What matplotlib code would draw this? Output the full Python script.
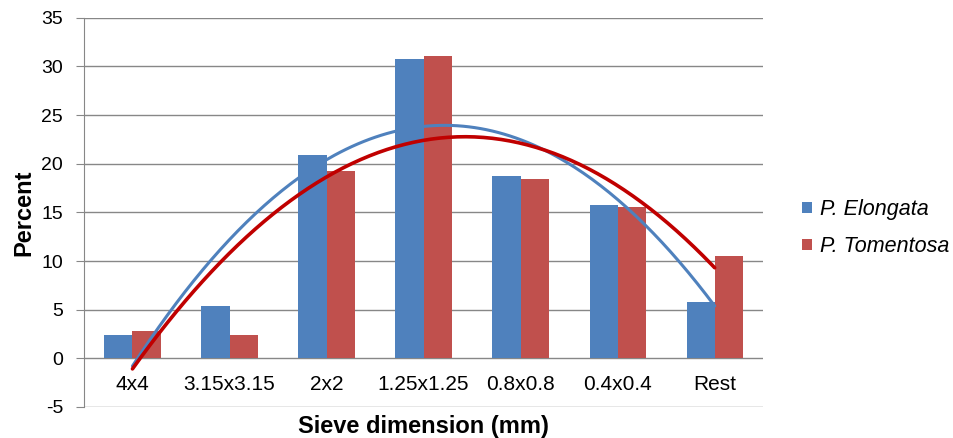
import numpy as np
import matplotlib
matplotlib.use("Agg")
import matplotlib.pyplot as plt

categories = ["4x4", "3.15x3.15", "2x2", "1.25x1.25", "0.8x0.8", "0.4x0.4", "Rest"]
elongata = [2.4, 5.4, 20.9, 30.8, 18.7, 15.8, 5.8]
tomentosa = [2.8, 2.4, 19.2, 31.1, 18.4, 15.5, 10.5]
series_names = ["P. Elongata", "P. Tomentosa"]
yticks = [-5, 0, 5, 10, 15, 20, 25, 30, 35]

plt.rcParams['font.family'] = ['Liberation Sans', 'DejaVu Sans']

fig = plt.figure(figsize=(9.54, 4.38), dpi=100)
ax = fig.add_axes([0.088, 0.0708, 0.712, 0.8888])

x = np.arange(len(categories))
w = 0.29
blue = '#4F81BD'
red = '#C0504D'
ax.bar(x - w/2, elongata, width=w, color=blue, zorder=3, label=series_names[0])
ax.bar(x + w/2, tomentosa, width=w, color=red, zorder=3, label=series_names[1])

# polynomial (order 2) trendlines
xs = np.linspace(0, len(categories) - 1, 200)
pb = np.polyfit(x, elongata, 2)
pr = np.polyfit(x, tomentosa, 2)
ax.plot(xs, np.polyval(pb, xs), color='#4F81BD', lw=2.2, zorder=4, solid_capstyle='round')
ax.plot(xs, np.polyval(pr, xs), color='#C00000', lw=2.6, zorder=5, solid_capstyle='round')

ax.set_xlim(-0.5, len(categories) - 0.5)
ax.set_ylim(-5, 35)
ax.set_yticks(yticks)
ax.set_yticklabels([str(t) for t in yticks], fontsize=14)
ax.yaxis.grid(True, color='#878787', lw=1.0, zorder=0)
ax.set_axisbelow(True)

for s in ['top', 'right', 'bottom']:
    ax.spines[s].set_visible(False)
ax.spines['left'].set_color('#878787')
ax.tick_params(axis='y', length=6, color='#878787', pad=9)
ax.set_xticks([])

for xi, c in zip(x, categories):
    ax.text(xi, -2.7, c, ha='center', va='center', fontsize=15)

ax.set_ylabel('Percent', fontsize=17, fontweight='bold')
ax.yaxis.set_label_coords(-0.089, 0.5)
ax.yaxis.label.set_va('center')
ax.set_xlabel('Sieve dimension (mm)', fontsize=17, fontweight='bold')
ax.xaxis.set_label_coords(0.5, -0.05)
ax.xaxis.label.set_va('center')

leg = ax.legend(loc='center left', bbox_to_anchor=(1.057, 0.459), frameon=False,
                prop={'style': 'italic', 'size': 15.5}, handlelength=0.45,
                handleheight=0.45, handletextpad=0.38, labelspacing=0.75,
                borderaxespad=0, borderpad=0)

fig.savefig('out.png', dpi=100)
